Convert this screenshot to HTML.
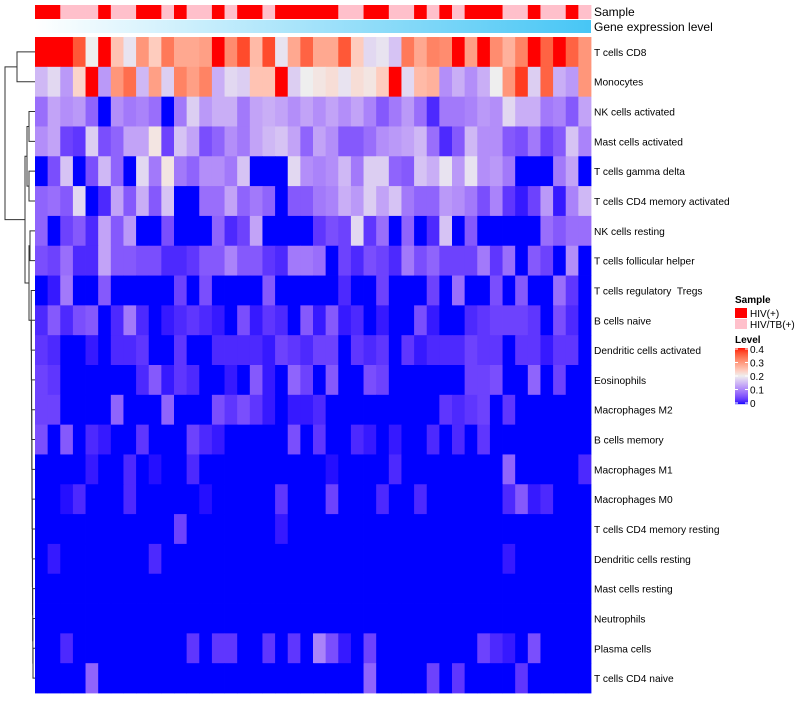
<!DOCTYPE html>
<html><head><meta charset="utf-8"><style>
body{margin:0;background:#fff;width:800px;height:700px;overflow:hidden;font-family:"Liberation Sans",sans-serif}
svg text{font-family:"Liberation Sans",sans-serif;fill:#000;white-space:pre}
</style></head><body>
<svg id="chart" width="800" height="700" xmlns="http://www.w3.org/2000/svg">
<g id="dendro" stroke="#333" stroke-width="1" fill="none"></g>
<g id="annot"></g>
<g id="cells"></g>
<g id="rowlabels"></g>
<text x="594" y="16" font-size="12">Sample</text>
<text x="594" y="31" font-size="12">Gene expression level</text>
<g>
<text x="735" y="303" font-size="10" font-weight="bold">Sample</text>
<rect x="735" y="308" width="12" height="10" fill="#ff0000"/>
<text x="750" y="317" font-size="10">HIV(+)</text>
<rect x="735" y="319" width="12" height="10" fill="#ffc0cb"/>
<text x="750" y="328" font-size="10">HIV/TB(+)</text>
<text x="735" y="343" font-size="10" font-weight="bold">Level</text>
<g id="levelbar"></g>
</g>
</svg>
<script>
const rowNames=["T cells CD8","Monocytes","NK cells activated","Mast cells activated","T cells gamma delta","T cells CD4 memory activated","NK cells resting","T cells follicular helper","T cells regulatory  Tregs","B cells naive","Dendritic cells activated","Eosinophils","Macrophages M2","B cells memory","Macrophages M1","Macrophages M0","T cells CD4 memory resting","Dendritic cells resting","Mast cells resting","Neutrophils","Plasma cells","T cells CD4 naive"];
const sampleGroups=[1,1,0,0,0,1,0,0,1,1,0,1,0,0,1,0,1,1,0,1,1,1,1,1,0,0,1,1,0,0,1,0,1,0,1,1,1,0,0,1,0,0,1,0];
const sampleNames=["HIV/TB(+)","HIV(+)"];
const levelTicks=[0,0.1,0.2,0.3,0.4];
const r0=[.42,.40,.42,.36,.2,.42,.25,.19,.30,.24,.33,.28,.28,.29,.42,.31,.37,.26,.37,.19,.28,.35,.28,.28,.36,.24,.18,.19,.16,.33,.28,.32,.31,.42,.29,.42,.31,.27,.32,.42,.35,.42,.35,.30];
const r1=[.15,.18,.12,.23,.42,.12,.30,.34,.15,.29,.17,.32,.29,.32,.14,.18,.17,.25,.25,.42,.17,.2,.21,.22,.19,.22,.21,.24,.42,.18,.26,.27,.11,.14,.11,.14,.2,.30,.38,.17,.35,.14,.12,.30];
const r2=[.08,.13,.11,.12,.07,0,.11,.09,.10,.08,0,.09,.17,.12,.14,.14,.09,.13,.14,.13,.11,.13,.11,.13,.11,.13,.10,.06,.09,.12,.08,.02,.09,.09,.10,.12,.11,.18,.14,.14,.09,.10,.06,.13];
const r3=[.11,.13,.04,.03,.17,.05,.07,.13,.13,.21,.04,.16,.13,.05,.07,.11,.09,.13,.15,.16,.13,.07,.13,.11,.06,.06,.08,.11,.12,.13,.15,.08,.02,.06,.15,.11,.11,.06,.05,.09,.04,.06,.16,.10];
const r4=[0,.05,.16,0,.05,.15,.07,0,.18,.09,.21,.09,.07,.11,.11,.09,.16,0,0,0,.18,.11,.10,.11,.15,.09,.17,.17,.07,.06,.16,.14,.19,.12,.19,.11,.12,.09,0,0,0,.09,.13,0];
const r5=[.07,.08,.06,.18,0,.02,.13,.06,.14,.06,.16,0,0,.08,.08,.13,.07,.09,.07,0,.06,.06,.09,.10,.14,.12,.17,.13,.16,.09,.07,.07,.12,.11,.09,.05,.10,.03,.01,.04,.12,.01,.10,.15];
const r6=[.07,0,.04,.06,.02,.13,.06,.12,0,0,.05,0,0,0,.07,.02,.04,.13,0,0,0,0,.03,.05,.04,.18,.03,.08,0,.07,0,.02,.16,0,.06,0,0,0,0,0,.08,.06,.08,.08];
const r7=[.05,.04,.08,.02,.02,.13,.06,.06,.05,.05,.02,.02,.03,.06,.06,.10,.06,.06,.03,.02,.09,.09,.08,0,.04,.02,.05,.04,.02,.09,.05,.07,.04,.04,.04,.09,.03,.08,0,.06,.04,0,.11,0];
const r8=[0,.01,.09,0,0,.06,0,0,0,0,0,.04,0,.05,0,0,0,0,.06,0,0,0,0,0,.02,0,0,.04,0,0,0,.04,0,.08,0,0,.05,0,.06,0,0,.08,.03,0];
const r9=[.02,.06,.02,.05,.06,0,.02,.09,.02,0,.01,.02,.03,.02,.01,0,.05,.01,.03,.02,0,.06,.01,.06,.01,.02,0,.01,0,0,.05,.01,0,0,.02,.03,.04,.04,.04,.03,0,.05,.02,0];
const r10=[.03,.02,0,0,.01,0,.02,.02,.03,0,0,.03,0,0,.02,.02,.02,.02,.01,.04,.03,.02,.04,.04,0,.03,.02,.03,0,.03,.01,.02,.02,.02,.04,.03,.03,0,.03,.03,.01,.03,.03,0];
const r11=[.04,.03,0,0,0,0,0,0,.02,.06,.01,.03,.02,0,0,.01,0,.06,.01,0,.07,.04,0,.06,0,0,.05,.04,0,0,0,0,0,0,.04,.04,.05,0,0,.07,0,.04,0,0];
const r12=[.04,.04,0,0,0,0,.07,0,0,0,.07,0,0,0,.05,.03,.05,.03,.01,0,.01,.01,.02,0,0,0,0,0,0,0,0,0,.03,.02,.03,.04,0,.03,0,0,0,0,0,0];
const r13=[.05,0,.06,0,.02,.01,0,0,.03,0,0,0,.04,.02,.01,0,0,0,0,0,.05,0,.03,0,0,.02,.01,0,.01,0,0,.02,0,.02,0,.03,0,0,0,0,0,0,0,0];
const r14=[0,0,0,0,.01,0,0,.02,0,.005,0,0,.02,0,0,0,0,0,0,0,0,0,0,.005,0,0,0,0,.02,0,0,0,0,0,0,0,0,.07,0,0,0,0,0,.02];
const r15=[0,0,.005,.02,0,0,0,.02,0,0,0,0,0,.005,0,0,0,0,0,.03,0,0,0,.04,0,0,0,.02,0,0,.02,0,0,0,0,0,0,.02,.06,.01,.02,0,0,0];
const r16=[0,0,0,0,0,0,0,0,0,0,0,.04,0,0,0,0,0,0,0,.01,0,0,0,0,0,0,0,0,0,0,0,0,0,0,0,0,0,0,0,0,0,0,0,0];
const r17=[0,.01,0,0,0,0,0,0,0,.02,0,0,0,0,0,0,0,0,0,0,0,0,0,0,0,0,0,0,0,0,0,0,0,0,0,0,0,.01,0,0,0,0,0,0];
const r18=[0,0,0,0,0,0,0,0,0,0,0,0,0,0,0,0,0,0,0,0,0,0,0,0,0,0,0,0,0,0,0,0,0,0,0,0,0,0,0,0,0,0,0,0];
const r19=[0,0,0,0,0,0,0,0,0,0,0,0,0,0,0,0,0,0,0,0,0,0,0,0,0,0,0,0,0,0,0,0,0,0,0,0,0,0,0,0,0,0,0,0];
const r20=[0,0,.02,0,0,0,0,0,0,0,0,0,.03,0,.03,.03,0,0,.03,0,.03,0,.10,.05,.01,0,.04,0,0,0,0,0,0,0,0,.04,.02,.01,0,.05,0,0,0,0];
const r21=[0,0,0,0,.07,0,0,0,0,0,0,0,0,0,0,0,0,0,0,0,0,0,0,0,0,0,.07,0,0,0,0,.04,0,.03,0,0,0,0,.03,0,0,0,0,0];
const values=[r0,r1,r2,r3,r4,r5,r6,r7,r8,r9,r10,r11,r12,r13,r14,r15,r16,r17,r18,r19,r20,r21];

const NS="http://www.w3.org/2000/svg";
const X0=35,X1=591,Y0=37,Y1=693;
const nCols=sampleGroups.length,nRows=rowNames.length;
const cw=(X1-X0)/nCols,rh=(Y1-Y0)/nRows;
const xPos=j=>X0+j*cw;
const yPos=i=>Y0+i*rh;
function mk(tag,attrs,parent){const e=document.createElementNS(NS,tag);for(const k in attrs)e.setAttribute(k,attrs[k]);parent.appendChild(e);return e;}
function s2l(c){c/=255;return c<=0.04045?c/12.92:Math.pow((c+0.055)/1.055,2.4);}
function l2s(c){c=c<=0.0031308?12.92*c:1.055*Math.pow(c,1/2.4)-0.055;return Math.max(0,Math.min(255,Math.round(c*255)));}
function toLab(rgb){const [r,g,b]=rgb.map(s2l);let x=(r*0.4124+g*0.3576+b*0.1805)/0.95047,y=r*0.2126+g*0.7152+b*0.0722,z=(r*0.0193+g*0.1192+b*0.9505)/1.08883;const f=t=>t>0.008856?Math.cbrt(t):7.787*t+16/116;const fx=f(x),fy=f(y),fz=f(z);return[116*fy-16,500*(fx-fy),200*(fy-fz)];}
function fromLab(l){const fy=(l[0]+16)/116,fx=fy+l[1]/500,fz=fy-l[2]/200;const g=t=>t*t*t>0.008856?t*t*t:(t-16/116)/7.787;const x=g(fx)*0.95047,y=g(fy),z=g(fz)*1.08883;const r=x*3.2406-y*1.5372-z*0.4986,gg=-x*0.9689+y*1.8758+z*0.0415,b=x*0.0557-y*0.2040+z*1.0570;return`rgb(${l2s(r)},${l2s(gg)},${l2s(b)})`;}
const LB=toLab([0,0,255]),LW=toLab([238,238,238]),LR=toLab([255,0,0]);
function color(v){v=Math.max(0,Math.min(0.4,v));let a,b,t;if(v<=0.2){a=LB;b=LW;t=v/0.2;}else{a=LW;b=LR;t=(v-0.2)/0.2;}return fromLab(a.map((x,k)=>x+(b[k]-x)*t));}

const cells=document.getElementById('cells');
for(let i=0;i<nRows;i++){for(let j=0;j<nCols;j++){
 const r=mk('rect',{x:xPos(j).toFixed(2),y:yPos(i).toFixed(2),width:(cw+0.4).toFixed(2),height:(rh+0.4).toFixed(2),fill:color(values[i][j])},cells);
 
 
}}
const rl=document.getElementById('rowlabels');
rowNames.forEach((n,i)=>{const t=mk('text',{x:594,y:(yPos(i)+rh/2+4).toFixed(1),'font-size':'10.2'},rl);t.textContent=n;
 
 });
const an=document.getElementById('annot');
const defs=mk('defs',{},an);
const lg=mk('linearGradient',{id:'gexp',x1:'0',x2:'1',y1:'0',y2:'0'},defs);
mk('stop',{offset:'0','stop-color':'#ffffff'},lg);mk('stop',{offset:'1','stop-color':'#47c6f5'},lg);
sampleGroups.forEach((g,j)=>{const r=mk('rect',{x:xPos(j).toFixed(2),y:5,width:(cw+0.4).toFixed(2),height:14,fill:g?'#ff0000':'#ffc0cb'},an);
 
 });
const ge=mk('rect',{x:X0,y:20,width:X1-X0,height:13,fill:'url(#gexp)'},an);


const lb=document.getElementById('levelbar');
const bTop=348,bBot=404;
for(let k=0;k<56;k++){const v=0.4*(1-(k+0.5)/56);mk('rect',{x:735,y:bTop+k,width:13,height:1.2,fill:color(v)},lb);}
levelTicks.forEach(v=>{const y=bBot-1-(v/0.4)*(bBot-bTop-2);
 mk('line',{x1:735,x2:738,y1:y,y2:y,stroke:'#fff'},lb);mk('line',{x1:745,x2:748,y1:y,y2:y,stroke:'#fff'},lb);
 const t=mk('text',{x:750,y:(y+4).toFixed(1),'font-size':'10'},lb);t.textContent=String(v);
 
 });
const dg=document.getElementById('dendro');
const cy=i=>yPos(i)+rh/2;
function seg(d){mk('path',{d:d},dg);}
seg(`M35 ${cy(0)} H17 V${cy(1)} H35`);
seg(`M35 ${cy(2)} H29 V${cy(3)} H35`);
seg(`M35 ${cy(4)} H29 V${cy(5)} H35`);
const mB1=(cy(2)+cy(3))/2,mB2=(cy(4)+cy(5))/2,mB=(mB1+mB2)/2;
seg(`M29 ${mB1} H27 V${mB2} H29`);
seg(`M35 ${cy(6)} H30 V${cy(7)} H35`);
let px=35;
let chainMid=cy(21);
for(let i=20;i>=8;i--){const xx=33-(20-i)*0.15;seg(`M35 ${cy(i)} H${xx} V${chainMid} H${px}`);chainMid=(cy(i)+chainMid)/2;px=xx;}
const mC1=(cy(6)+cy(7))/2;
seg(`M30 ${mC1} H29 V${chainMid} H${px}`);
const mC=(mC1+chainMid)/2;
seg(`M27 ${mB} H25 V${mC} H29`);
const mRest=(mB+mC)/2;
seg(`M17 ${(cy(0)+cy(1))/2} H5 V${mRest} H25`);
</script>
</body></html>
